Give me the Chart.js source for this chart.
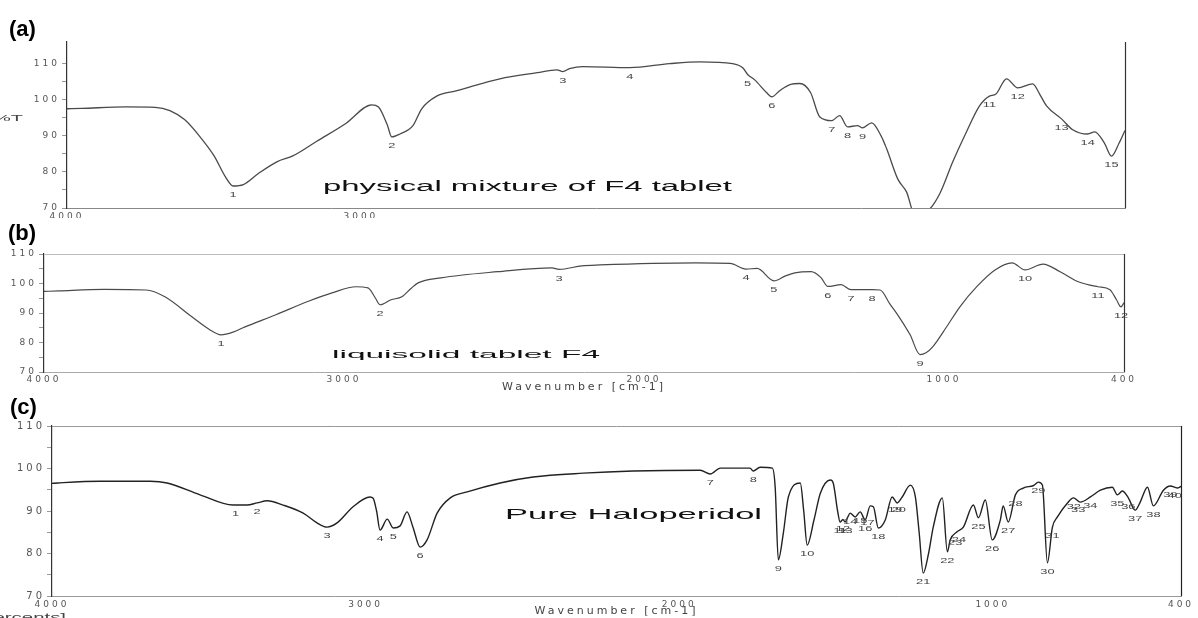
<!DOCTYPE html>
<html><head><meta charset="utf-8">
<script src="https://cdn.jsdelivr.net/npm/chart.js@4.4.1/dist/chart.umd.min.js"></script>
<style>
html,body{margin:0;padding:0;background:#fff;width:1198px;height:618px;overflow:hidden;}
.p{position:absolute;left:0;width:1198px;}
.p canvas{display:block;}
.lbl{position:absolute;font:bold 22px "Liberation Sans",Arial,sans-serif;color:#000;line-height:24px;}
</style></head><body>
<div class="p" style="top:0;height:218px"><canvas id="ca" width="1198" height="218"></canvas></div>
<div class="p" style="top:218px;height:177px"><canvas id="cb" width="1198" height="177"></canvas></div>
<div class="p" style="top:395px;height:223px"><canvas id="cc" width="1198" height="223"></canvas></div>
<div class="lbl" style="left:9px;top:17px">(a)</div>
<div class="lbl" style="left:8px;top:221px">(b)</div>
<div class="lbl" style="left:10px;top:395px">(c)</div>
<script>
// ---------- data ----------
const xTickVals = [400, 500, 1000, 1500, 2000, 2500, 3000, 3500, 4000];
const yTickVals = [70, 75, 80, 85, 90, 95, 100, 105, 110];
const xLabelsA = [4000, 3000];
const xLabelsBC = [4000, 3000, 2000, 1000, 400];

// (a) physical mixture of F4 tablet
const wnA = [4000,3950,3800,3700,3650,3600,3550,3500,3460,3435,3400,3350,3286,3230,3150,3050,2963,2940,2910,2895,2867,2823,2793,2742,2673,2527,2400,2333,2313,2290,2245,2085,1950,1847,1735,1700,1684,1660,1620,1602,1575,1540,1507,1470,1439,1398,1371,1344,1310,1293,1262,1230,1211,1173,1143,1116,1090,1065,1030,986,940,895,861,840,803,765,714,690,667,616,578,527,503,470,446,420,400];
const tA  = [97.5,97.6,98.0,97.9,97.0,94.5,90.0,84.5,78.5,76.1,76.5,79.5,82.8,84.5,88.5,93.5,98.6,98.0,93.0,89.7,90.5,92.8,97.5,101.0,102.5,105.8,107.5,108.3,107.8,108.6,109.2,108.9,110.0,110.5,110.0,108.8,107.0,105.5,102.0,100.8,102.5,104.2,104.5,102.0,95.3,94.2,95.6,92.5,92.8,92.2,93.6,90.0,86.4,78.0,74.4,68.3,69.0,69.7,74.0,82.8,91.0,98.3,101.0,101.5,105.8,103.3,104.4,101.5,98.3,94.7,91.7,90.5,91.1,88.0,84.4,88.0,91.5];
const peakNumA = ['1','2','3','4','5','6','7','8','9','11','12','13','14','15'];
const peakWnA  = [3435,2895,2313,2085,1684,1602,1398,1344,1293,861,765,616,527,446];

// (b) liquisolid tablet F4
const wnB = [4000,3950,3800,3660,3597,3507,3450,3410,3370,3330,3227,3123,3040,2960,2920,2895,2880,2843,2807,2775,2753,2677,2487,2307,2283,2207,2147,1827,1713,1660,1623,1567,1530,1497,1443,1410,1387,1343,1310,1240,1213,1180,1150,1113,1080,1060,1037,990,947,890,830,773,730,670,613,550,487,447,425,410,400];
const tB  = [97.3,97.5,98.0,97.8,95.5,88.7,84.5,82.6,83.5,85.3,89.4,93.8,96.8,98.9,98.5,95.0,92.8,94.5,95.5,98.5,100.2,101.9,104.0,105.3,104.8,106.0,106.3,107.0,106.8,104.9,105.1,100.9,102.5,103.6,104.0,102.0,99.0,99.6,97.9,97.9,97.8,93.0,88.7,82.6,75.9,76.5,78.6,85.5,92.1,99.0,104.6,107.0,104.6,106.6,104.0,100.5,98.9,97.9,94.5,92.1,93.5];
const peakNumB = ['1','2','3','4','5','6','7','8','9','10','11','12'];
const peakWnB  = [3410,2880,2283,1660,1567,1387,1310,1240,1080,730,487,410];

// (c) pure haloperidol
const wnC = [4000,3981,3847,3687,3633,3528,3423,3378,3346,3314,3263,3199,3155,3123,3091,3040,2986,2976,2965,2954,2931,2912,2890,2868,2849,2826,2804,2772,2730,2676,2571,2466,2306,2147,1933,1901,1869,1774,1764,1742,1703,1694,1684,1668,1652,1614,1603,1592,1570,1550,1518,1509,1495,1487,1478,1471,1463,1455,1439,1423,1407,1391,1381,1365,1343,1321,1305,1289,1263,1247,1235,1222,1205,1190,1161,1145,1136,1114,1094,1062,1046,1024,1002,976,967,951,928,903,870,855,842,826,810,794,762,743,721,689,657,619,603,587,568,546,530,507,488,456,434,412,400];
const tC  = [96.5,96.6,97.0,97.0,96.6,93.8,91.4,91.4,91.9,92.4,91.4,89.5,87.2,86.2,87.2,91.0,93.3,93.0,90.0,85.5,88.1,86.0,86.5,89.8,86.2,81.5,83.2,89.5,93.1,94.5,96.6,98.0,98.9,99.4,99.6,98.7,100.1,100.1,99.4,100.3,100.1,95.6,78.5,84.8,93.3,96.6,90.0,82.0,88.0,94.2,97.3,96.6,90.0,87.4,88.0,87.4,88.5,89.5,88.6,89.8,87.9,91.2,91.0,86.0,87.9,93.3,91.9,93.3,96.1,93.3,85.0,75.4,80.0,86.2,93.1,80.4,83.2,85.1,86.2,91.4,88.4,92.6,83.2,87.9,91.2,87.4,93.8,95.4,96.0,96.8,96.1,77.8,86.2,88.6,91.9,93.1,92.1,93.3,94.9,95.6,93.8,94.7,93.1,90.2,92.1,95.6,91.2,94.9,95.9,95.4,95.8];
const peakNumC = ['1','2','3','4','5','6','7','8','9','10','11','12','13','14','15','16','17','18','19','20','21','22','23','24','25','26','27','28','29','30','31','32','33','34','35','36','37','38','39','40'];
const peakWnC  = [3415,3346,3123,2954,2912,2826,1901,1764,1684,1592,1487,1478,1470,1455,1423,1407,1400,1365,1312,1300,1222,1145,1120,1108,1046,1002,951,928,855,826,810,742,728,689,603,568,546,488,434,420];

// ---------- helpers ----------
function interp(wn, t, w) {
  for (let i = 0; i < wn.length - 1; i++) {
    const a = wn[i], b = wn[i + 1];
    if (w <= a && w >= b) { const f = (a - w) / (a - b || 1); return t[i] + (t[i + 1] - t[i]) * f; }
  }
  return t[t.length - 1];
}
function stretchText(ctx, text, x, cy, scaleX, size, color, align) {
  ctx.save();
  ctx.letterSpacing = '0px';
  ctx.font = size + 'px "Liberation Sans", Arial, sans-serif';
  const w = ctx.measureText(text).width * scaleX;
  let left = x;
  if (align === 'center') left = x - w / 2;
  if (align === 'right') left = x - w;
  ctx.translate(left, cy);
  ctx.scale(scaleX, 1);
  ctx.textBaseline = 'middle';
  ctx.textAlign = 'left';
  ctx.fillStyle = color;
  ctx.fillText(text, 0, 0);
  ctx.restore();
}
function fitText(ctx, text, left, cy, width, size, color) {
  ctx.save();
  ctx.letterSpacing = '0px';
  ctx.font = size + 'px "Liberation Sans", Arial, sans-serif';
  const w = ctx.measureText(text).width;
  ctx.restore();
  stretchText(ctx, text, left, cy, width / w, size, color, 'left');
}

function makeChart(id, cfg) {
  const cv = document.getElementById(id);
  const data = cfg.wn.map((w, i) => ({ x: w, y: cfg.t[i] }));
  const plug = {
    id: 'deco_' + id,
    beforeDraw(chart) { chart.ctx.letterSpacing = '3px'; },
    afterDraw(chart) {
      const ctx = chart.ctx, a = chart.chartArea;
      const xs = chart.scales.x, ys = chart.scales.y;
      ctx.save();
      ctx.letterSpacing = '0px';
      if (cfg.topColor) {
        ctx.strokeStyle = cfg.topColor; ctx.lineWidth = 1;
        ctx.beginPath(); ctx.moveTo(a.left, a.top + 0.5); ctx.lineTo(a.right, a.top + 0.5); ctx.stroke();
      }
      ctx.strokeStyle = cfg.rightColor; ctx.lineWidth = 1.2;
      ctx.beginPath(); ctx.moveTo(a.right + 0.5, a.top); ctx.lineTo(a.right + 0.5, a.bottom); ctx.stroke();
      ctx.restore();
      // peak numbers
      cfg.peakNum.forEach((n, i) => {
        const w = cfg.peakWn[i];
        const v = interp(cfg.wn, cfg.t, w);
        const px = xs.getPixelForValue(w);
        const py = ys.getPixelForValue(v) + 9;
        if (py < a.bottom + 2) stretchText(ctx, n, px, py, 1.6, 8, '#444', 'center');
      });
      // annotations
      cfg.notes.forEach(nt => fitText(ctx, nt.text, nt.left, nt.cy, nt.width, nt.size, nt.color || '#111'));
    }
  };
  return new Chart(cv, {
    type: 'line',
    data: { datasets: [{ data, borderColor: cfg.lineColor, borderWidth: cfg.lw, pointRadius: 0,
      cubicInterpolationMode: 'monotone', fill: false }] },
    options: {
      responsive: false, animation: false, devicePixelRatio: 1,
      layout: { padding: { left: 0, top: cfg.area.top, right: 1198 - cfg.area.right, bottom: 0 } },
      plugins: { legend: { display: false }, tooltip: { enabled: false } },
      scales: {
        x: {
          type: 'linear', min: 400, max: 4000, reverse: true,
          afterBuildTicks: s => { s.ticks = xTickVals.map(v => ({ value: v })); },
          afterFit: s => { s.height = cfg.H - cfg.area.bottom; },
          ticks: { autoSkip: false, maxRotation: 0, padding: cfg.xTickPad, color: '#555',
            font: { family: 'DejaVu Sans', size: 9 },
            callback: v => cfg.xLabels.includes(v) ? String(v) : '' },
          grid: { drawOnChartArea: false, drawTicks: false },
          border: { display: true, color: cfg.bottomColor, width: 1 },
          title: { display: !!cfg.xTitle, text: 'Wavenumber [cm-1]', color: '#444',
            font: { family: 'DejaVu Sans', size: 11, lineHeight: 1.2 }, padding: { top: 0, bottom: cfg.titlePadB || 0 } }
        },
        y: {
          min: 70, max: cfg.ymax,
          afterBuildTicks: s => { s.ticks = yTickVals.map(v => ({ value: v })); },
          afterFit: s => { s.width = cfg.area.left; },
          ticks: { padding: 2, color: '#555', font: { family: 'DejaVu Sans', size: cfg.yTickSize },
            callback: v => (v % 10 === 0 ? String(v) : '') },
          grid: { drawOnChartArea: false, drawTicks: true, tickLength: 5, color: '#999' },
          border: { display: true, color: '#333', width: 1.2 }
        }
      }
    },
    plugins: [plug]
  });
}

makeChart('ca', {
  H: 218, area: { left: 67, right: 1125, top: 42, bottom: 208 }, ymax: 116,
  wn: wnA, t: tA, peakNum: peakNumA, peakWn: peakWnA,
  lineColor: '#4a4a4a', lw: 1.3, xLabels: xLabelsA, xTickPad: 3, yTickSize: 9,
  bottomColor: '#888', topColor: null, rightColor: '#333', xTitle: false,
  notes: [
    { text: 'physical mixture of F4 tablet', left: 323, cy: 187, width: 409, size: 14 },
    { text: '%T', left: -7, cy: 119, width: 30, size: 9, color: '#444' }
  ]
});
makeChart('cb', {
  H: 177, area: { left: 44, right: 1124, top: 36, bottom: 154 }, ymax: 110,
  wn: wnB, t: tB, peakNum: peakNumB, peakWn: peakWnB,
  lineColor: '#4a4a4a', lw: 1.2, xLabels: xLabelsBC, xTickPad: 2, yTickSize: 9,
  bottomColor: '#aaa', topColor: '#bbb', rightColor: '#333', xTitle: true, titlePadB: 1,
  notes: [
    { text: 'liquisolid tablet F4', left: 332, cy: 137, width: 268, size: 11 }
  ]
});
makeChart('cc', {
  H: 223, area: { left: 52, right: 1181, top: 31, bottom: 201 }, ymax: 110,
  wn: wnC, t: tC, peakNum: peakNumC, peakWn: peakWnC,
  lineColor: '#222', lw: 1.4, xLabels: xLabelsBC, xTickPad: 3, yTickSize: 10,
  bottomColor: '#999', topColor: '#999', rightColor: '#222', xTitle: true, titlePadB: 0,
  notes: [
    { text: 'Pure Haloperidol', left: 505, cy: 120, width: 257, size: 15 },
    { text: '%T [Percents]', left: -62, cy: 223, width: 128, size: 11, color: '#444' }
  ]
});
</script>
</body></html>
